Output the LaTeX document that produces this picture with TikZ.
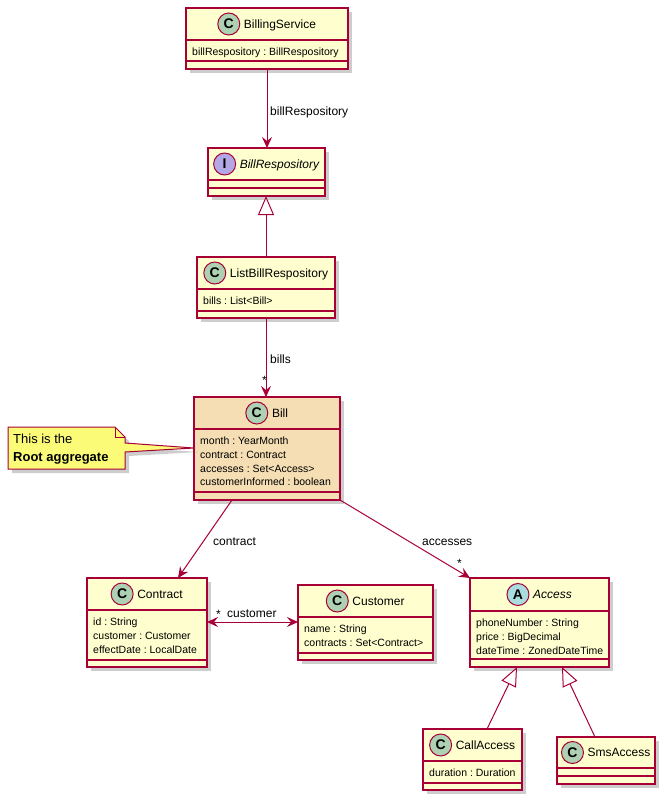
\documentclass[tikz,border=0pt]{standalone}
\usepackage{fontspec}
\setmainfont{Liberation Sans}
\usetikzlibrary{arrows.meta,shadows,calc}
\definecolor{umlborder}{HTML}{A80036}
\definecolor{umlfill}{HTML}{FEFECE}
\definecolor{umlwheat}{HTML}{F5DEB3}
\definecolor{circC}{HTML}{ADD1B2}
\definecolor{circI}{HTML}{B4A7E5}
\definecolor{circA}{HTML}{A9DCDF}
\definecolor{notefill}{HTML}{FBFB77}
\frenchspacing
\begin{document}
\begin{tikzpicture}[x=1pt,y=-1pt,
  shadowed/.style={drop shadow={shadow xshift=4pt, shadow yshift=-4pt, opacity=0.28, fill=black!70}},
  box/.style={draw=umlborder, line width=1.5pt, fill=umlfill, rectangle, inner sep=0pt, outer sep=0pt, anchor=north west, shadowed},
  sep/.style={draw=umlborder, line width=1.5pt},
  cname/.style={font=\fontsize{12}{14}\selectfont, inner sep=0pt, text height=8.6pt, text depth=0pt, anchor=center},
  spot/.style={circle, draw=umlborder, line width=1pt, minimum size=22pt, inner sep=0pt, font=\bfseries\fontsize{14}{14}\selectfont},
  attr/.style={font=\fontsize{10.5}{13.6}\selectfont, inner sep=0pt, anchor=north west, align=left},
  assoc/.style={draw=umlborder, line width=1pt, -{Stealth[length=11pt,width=10pt,inset=4pt]}},
  biassoc/.style={draw=umlborder, line width=1pt, {Stealth[length=11pt,width=10pt,inset=4pt]}-{Stealth[length=11pt,width=10pt,inset=4pt]}},
  gen/.style={draw=umlborder, line width=1pt, -{Triangle[open,length=19pt,width=16pt,fill=white]}},
  lbl/.style={font=\fontsize{12}{14}\selectfont, inner sep=0pt, anchor=base west},
]
\useasboundingbox (0,0) rectangle (665,800);
\fill[white] (0,0) rectangle (665,800);

% BillingService
\node[box, minimum width=162pt, minimum height=61pt] (bs) at (186,8) {};
\draw[sep] (bs.west |- 0,40) -- (bs.east |- 0,40);
\draw[sep] (bs.west |- 0,61) -- (bs.east |- 0,61);
\node[cname] (bsN) at ($(bs.north)+(13,16)$) {BillingService};
\node[spot, fill=circC] (bsC) at ($(bsN.west)+(-15,0)$) {C};
\node[attr] (bsA) at (192,48) {billRespository : BillRespository};

% BillRespository
\node[box, minimum width=117pt, minimum height=48pt] (br) at (208,148) {};
\draw[sep] (br.west |- 0,180) -- (br.east |- 0,180);
\draw[sep] (br.west |- 0,188) -- (br.east |- 0,188);
\node[cname, font=\fontsize{12}{14}\selectfont\itshape] (brN) at ($(br.north)+(13,16)$) {BillRespository};
\node[spot, fill=circI] (brC) at ($(brN.west)+(-15,0)$) {I};

% ListBillRespository
\node[box, minimum width=138pt, minimum height=61pt] (lbr) at (197,257) {};
\draw[sep] (lbr.west |- 0,289) -- (lbr.east |- 0,289);
\draw[sep] (lbr.west |- 0,311) -- (lbr.east |- 0,311);
\node[cname] (lbrN) at ($(lbr.north)+(13,16)$) {ListBillRespository};
\node[spot, fill=circC] (lbrC) at ($(lbrN.west)+(-15,0)$) {C};
\node[attr] (lbrA) at (203,297) {bills : List<Bill>};

% Bill
\node[box, fill=umlwheat, minimum width=146pt, minimum height=103pt] (bill) at (194,397) {};
\draw[sep] (bill.west |- 0,429) -- (bill.east |- 0,429);
\draw[sep] (bill.west |- 0,492) -- (bill.east |- 0,492);
\node[cname] (billN) at ($(bill.north)+(13,16)$) {Bill};
\node[spot, fill=circC] (billC) at ($(billN.west)+(-15,0)$) {C};
\node[attr] (billA) at (200,437) {month : YearMonth\\contract : Contract\\accesses : Set<Access>\\customerInformed : boolean};

% Note
\path[shadowed, draw=umlborder, line width=1pt, fill=notefill]
  (8,427) -- (115,427) -- (125,437) -- (125,443) -- (bill.west |- 0,448) -- (125,452) -- (125,469) -- (8,469) -- cycle;
\draw[draw=umlborder, line width=1pt] (115,427) -- (115,437) -- (125,437);
\node[inner sep=0pt, anchor=north west, align=left, font=\fontsize{13}{17.5}\selectfont] (note) at (13,434) {This is the\\\textbf{Root aggregate}};

% Contract
\node[box, minimum width=120pt, minimum height=89pt] (con) at (87,578) {};
\draw[sep] (con.west |- 0,610) -- (con.east |- 0,610);
\draw[sep] (con.west |- 0,660) -- (con.east |- 0,660);
\node[cname] (conN) at ($(con.north)+(13,16)$) {Contract};
\node[spot, fill=circC] (conC) at ($(conN.west)+(-15,0)$) {C};
\node[attr] (conA) at (93,618) {id : String\\customer : Customer\\effectDate : LocalDate};

% Customer
\node[box, minimum width=135pt, minimum height=75pt] (cus) at (298,585) {};
\draw[sep] (cus.west |- 0,617) -- (cus.east |- 0,617);
\draw[sep] (cus.west |- 0,653) -- (cus.east |- 0,653);
\node[cname] (cusN) at ($(cus.north)+(13,16)$) {Customer};
\node[spot, fill=circC] (cusC) at ($(cusN.west)+(-15,0)$) {C};
\node[attr] (cusA) at (304,625) {name : String\\contracts : Set<Contract>};

% Access
\node[box, minimum width=139pt, minimum height=89pt] (acc) at (470,578) {};
\draw[sep] (acc.west |- 0,611) -- (acc.east |- 0,611);
\draw[sep] (acc.west |- 0,659) -- (acc.east |- 0,659);
\node[cname, font=\fontsize{12}{14}\selectfont\itshape] (accN) at ($(acc.north)+(13,16.5)$) {Access};
\node[spot, fill=circA] (accC) at ($(accN.west)+(-15,0)$) {A};
\node[attr] (accA) at (476,619) {phoneNumber : String\\price : BigDecimal\\dateTime : ZonedDateTime};

% CallAccess
\node[box, minimum width=99pt, minimum height=61pt] (call) at (423,729) {};
\draw[sep] (call.west |- 0,761) -- (call.east |- 0,761);
\draw[sep] (call.west |- 0,783) -- (call.east |- 0,783);
\node[cname] (callN) at ($(call.north)+(13,16)$) {CallAccess};
\node[spot, fill=circC] (callC) at ($(callN.west)+(-15,0)$) {C};
\node[attr] (callA) at (429,769) {duration : Duration};

% SmsAccess
\node[box, minimum width=98pt, minimum height=47pt] (sms) at (557,737) {};
\draw[sep] (sms.west |- 0,768) -- (sms.east |- 0,768);
\draw[sep] (sms.west |- 0,776) -- (sms.east |- 0,776);
\node[cname] (smsN) at ($(sms.north)+(13,15.5)$) {SmsAccess};
\node[spot, fill=circC] (smsC) at ($(smsN.west)+(-15,0)$) {C};

% Connectors
\draw[assoc] (bs.south) -- (bs.south |- br.north);
\draw[gen] (lbr.north) -- (lbr.north |- br.south);
\draw[assoc] (lbr.south) -- (lbr.south |- bill.north);
\draw[assoc] (bill.south -| 232,0) -- (con.north -| 178,0);
\draw[assoc] (bill.south east) -- (acc.north west);
\draw[biassoc] (con.east |- 0,622) -- (cus.west |- 0,622);
\draw[gen] (call.north -| 487,0) -- (acc.south -| 517,0);
\draw[gen] (sms.north -| 595,0) -- (acc.south -| 562,0);

% Labels
\node[lbl] (l1) at (270,115.5) {billRespository};
\node[lbl] (l2) at (270,363) {bills};
\node[lbl, anchor=base east] (l3) at (267,384) {*};
\node[lbl] (l4) at (213,545) {contract};
\node[lbl] (l5) at (422,545) {accesses};
\node[lbl] (l6) at (457,567) {*};
\node[lbl] (l7) at (216,618) {*};
\node[lbl] (l8) at (227,617) {customer};
\end{tikzpicture}
\end{document}
